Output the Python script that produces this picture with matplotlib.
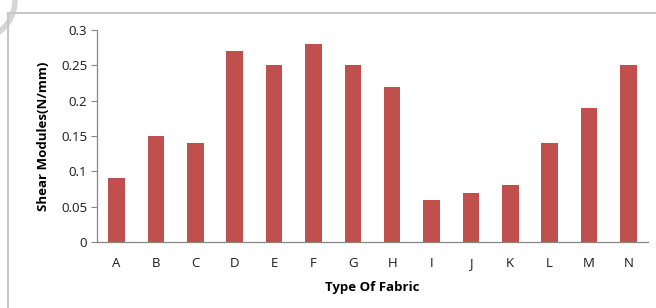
import matplotlib.pyplot as plt
from matplotlib.patches import Arc
from matplotlib.lines import Line2D

fabrics = ["A", "B", "C", "D", "E", "F", "G", "H", "I", "J", "K", "L", "M", "N"]
shear = [0.09, 0.15, 0.14, 0.27, 0.25, 0.28, 0.25, 0.22, 0.06, 0.07, 0.08, 0.14, 0.19, 0.25]
yticks = [0, 0.05, 0.1, 0.15, 0.2, 0.25, 0.3]
ytick_labels = ["0", "0.05", "0.1", "0.15", "0.2", "0.25", "0.3"]

plt.rcParams["font.family"] = ["Open Sans", "DejaVu Sans"]

W, H = 656, 308
fig = plt.figure(figsize=(W / 100, H / 100), dpi=100)
ax = fig.add_axes([97 / W, 1 - 242 / H, (648 - 97) / W, (242 - 30) / H])

ax.bar(range(len(fabrics)), shear, width=0.42, color="#C0504D")
ax.set_xlim(-0.5, len(fabrics) - 0.5)
ax.set_ylim(0, 0.3)
ax.set_xticks(range(len(fabrics)))
ax.set_xticklabels(fabrics, fontsize=9.5, color="#1a1a1a")
ax.set_yticks(yticks)
ax.set_yticklabels(ytick_labels, fontsize=9.5, color="#1a1a1a")
ax.tick_params(axis="x", length=0, pad=11)
ax.tick_params(axis="y", length=4, color="#868686", pad=3)
for s in ["top", "right"]:
    ax.spines[s].set_visible(False)
for s in ["left", "bottom"]:
    ax.spines[s].set_color("#868686")
    ax.spines[s].set_linewidth(0.9)

ax.set_xlabel("Type Of Fabric", fontsize=9.5, fontweight="bold", labelpad=8)
ax.set_ylabel("Shear Modules(N/mm)", fontsize=9.5, fontweight="bold", labelpad=8)

# chart frame (top and left edges) and the faint arc in the corner
fig.add_artist(Line2D([8 / W, 1], [1 - 13 / H, 1 - 13 / H], color="#C8C8C8", lw=1.5))
fig.add_artist(Line2D([8 / W, 8 / W], [0, 1 - 13 / H], color="#C8C8C8", lw=1.5))
fig.add_artist(Arc((-25 / W, 1 - 0 / H), 80 / W, 80 / H, theta1=-100, theta2=60,
                   color="#D5D5D5", lw=4, transform=fig.transFigure))

fig.savefig("out.png", dpi=100)
